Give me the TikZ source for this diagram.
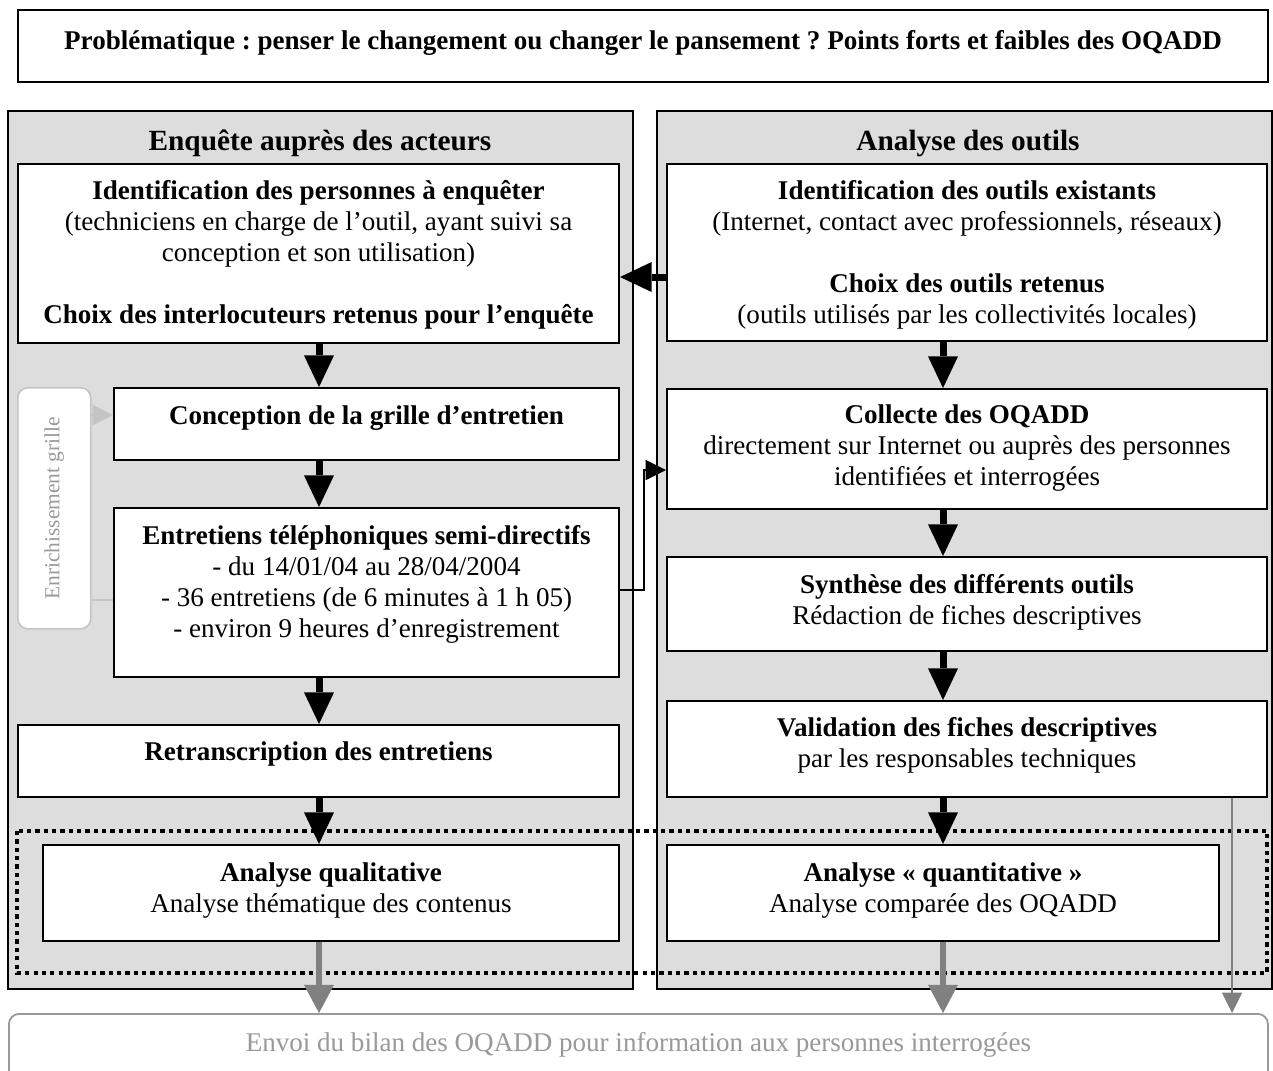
\documentclass[tikz,border=0pt]{standalone}
\usepackage{fontspec}
\setmainfont{Liberation Serif}
\frenchspacing
\usepackage{xcolor}
\definecolor{cZone}{HTML}{DDDDDD}
\definecolor{cSoft}{HTML}{C4C4C4}
\definecolor{cSoftText}{HTML}{999999}
\definecolor{cGray}{HTML}{808080}
\definecolor{cSend}{HTML}{999999}
\usepackage{tikz}
\usetikzlibrary{positioning,arrows.meta}
\tikzset{
  % largeur, hauteur, ligne de base de la 1re ligne (en px de l'original)
  size/.style n args={3}{minimum width=#1*0.4435pt,text height=#3*0.4435pt,
    text depth=(#2-#3)*0.4435pt,anchor=north west},
  node-zone/.style={draw=black,line width=0.9pt,fill=cZone,inner sep=0pt},
  node-head/.style={font=\fontsize{13}{15}\selectfont\bfseries},
  node-step/.style={draw=black,line width=0.9pt,fill=white,inner sep=0pt,
    align=flush center,font=\fontsize{12}{13.75}\selectfont},
  node-soft/.style={draw=cSoft,line width=0.7pt,fill=white,
    rounded corners=4.5pt,inner sep=0pt},
  node-send/.style={draw=cSend,line width=0.8pt,fill=white,rounded corners=4.5pt,
    inner sep=0pt,align=flush center,text=cSend,font=\fontsize{12}{13.75}\selectfont},
  % flèches : noir = enchaînement, gris = retour vers les personnes
  arrow/.style={-{Triangle[length=14pt,width=13.3pt,line width=0pt]},line width=3.1pt,draw=black},
  arrow-gray/.style={-{Triangle[length=12.5pt,width=13.3pt,line width=0pt]},line width=2.8pt,draw=cGray},
  arrow-thin/.style={-{Triangle[length=9pt,width=9pt,line width=0pt]},line width=0.9pt,draw=cGray},
  arrow-link/.style={-{Triangle[length=9pt,width=9pt,line width=0pt]},line width=0.6pt,draw=black},
  arrow-soft/.style={-{Triangle[length=9pt,width=9pt,line width=0pt]},line width=0.6pt,draw=cSoft},
  line-soft/.style={line width=0.6pt,draw=cSoft},
  frame-dotted/.style={line width=1.9pt,dash pattern=on 1.9pt off 1.8pt},
}

\begin{document}
\begin{tikzpicture}[x=0.4435pt,y=-0.4435pt]
  \useasboundingbox (0,0) rectangle (1273,1070);
  \clip (0,0) rectangle (1273,1070);
  \coordinate (colL) at (319,0);
  \coordinate (colR) at (943,0);
  \coordinate (colV) at (1232,0);
  \coordinate (y277) at (0,277);
  \coordinate (y415) at (0,415);
  \coordinate (y470) at (0,470);
  \coordinate (y590) at (0,590);
  \coordinate (y600) at (0,600);

  \node[node-step,size={1250}{72}{39},text width=540pt] (pb) at (17,9)
    {\textbf{Problématique : penser le changement ou changer le pansement ? Points forts et faibles des OQADD}};

  \node[node-zone,size={625}{878}{0}] (enq) at (7,110) {};
  \node[node-zone,size={615}{878}{0}] (ana) at (656,110) {};
  \node[node-head] (enq-t) at (320,143) {Enquête auprès des acteurs};
  \node[node-head] (ana-t) at (968,143) {Analyse des outils};
  \draw[frame-dotted] (17,831) rectangle (1267,973);

  \node[node-step,size={601}{179}{35},text width=262pt] (idp) at (17,163)
    {\textbf{Identification des personnes à enquêter}\\
     (techniciens en charge de l’outil, ayant suivi sa\\
     conception et son utilisation)\\[13.75pt]
     \textbf{Choix des interlocuteurs retenus pour l’enquête}};
  \node[node-step,size={505}{72}{36},text width=215pt] (con) at (113,387)
    {\textbf{Conception de la grille d’entretien}};
  \node[node-step,size={505}{169}{36},text width=215pt] (ent) at (113,507)
    {\textbf{Entretiens téléphoniques semi-directifs}\\
     - du 14/01/04 au 28/04/2004\\
     - 36 entretiens (de 6 minutes à 1 h 05)\\
     - environ 9 heures d’enregistrement};
  \node[node-step,size={601}{72}{35},text width=262pt] (ret) at (17,724)
    {\textbf{Retranscription des entretiens}};
  \node[node-step,size={576}{96}{36},text width=250pt] (aql) at (42,844)
    {\textbf{Analyse qualitative}\\ Analyse thématique des contenus};

  \node[node-step,size={600}{177}{35},text width=262pt] (ido) at (666,163)
    {\textbf{Identification des outils existants}\\
     (Internet, contact avec professionnels, réseaux)\\[13.75pt]
     \textbf{Choix des outils retenus}\\
     (outils utilisés par les collectivités locales)};
  \node[node-step,size={600}{120}{34},text width=262pt] (col) at (666,388)
    {\textbf{Collecte des OQADD}\\
     directement sur Internet ou auprès des personnes\\
     identifiées et interrogées};
  \node[node-step,size={600}{94}{36},text width=262pt] (syn) at (666,556)
    {\textbf{Synthèse des différents outils}\\ Rédaction de fiches descriptives};
  \node[node-step,size={600}{96}{35},text width=262pt] (val) at (666,700)
    {\textbf{Validation des fiches descriptives}\\ par les responsables techniques};
  \node[node-step,size={552}{96}{36},text width=240pt] (aqt) at (666,844)
    {\textbf{Analyse « quantitative »}\\ Analyse comparée des OQADD};

  \node[node-soft,size={73}{241}{0}] (enr) at (17,387) {};
  \node[rotate=90,text=cSoftText,font=\fontsize{9.5}{11}\selectfont] (enr-t) at (enr.center)
    {Enrichissement grille};

  \node[node-send,size={1259}{87}{38},text width=540pt] (env) at (8,1013)
    {Envoi du bilan des OQADD pour information aux personnes interrogées};

  \draw[arrow] (idp.south -| colL) -- (con.north -| colL);
  \draw[arrow] (con.south -| colL) -- (ent.north -| colL);
  \draw[arrow] (ent.south -| colL) -- (ret.north -| colL);
  \draw[arrow] (ret.south -| colL) -- (aql.north -| colL);
  \draw[arrow] (ido.south -| colR) -- (col.north -| colR);
  \draw[arrow] (col.south -| colR) -- (syn.north -| colR);
  \draw[arrow] (syn.south -| colR) -- (val.north -| colR);
  \draw[arrow] (val.south -| colR) -- (aqt.north -| colR);
  \draw[arrow] (ido.west |- y277) -- (idp.east |- y277);
  \draw[arrow-link] (ent.east |- y590) -- ++(24,0) |- (col.west |- y470);
  \draw[line-soft] (ent.west |- y600) -- (enr.east |- y600);
  \draw[arrow-soft] (enr.east |- y415) -- (con.west |- y415);
  \draw[arrow-gray] (aql.south -| colL) -- (env.north -| colL);
  \draw[arrow-gray] (aqt.south -| colR) -- (env.north -| colR);
  \draw[arrow-thin] (val.south -| colV) -- (env.north -| colV);
\end{tikzpicture}
\end{document}
